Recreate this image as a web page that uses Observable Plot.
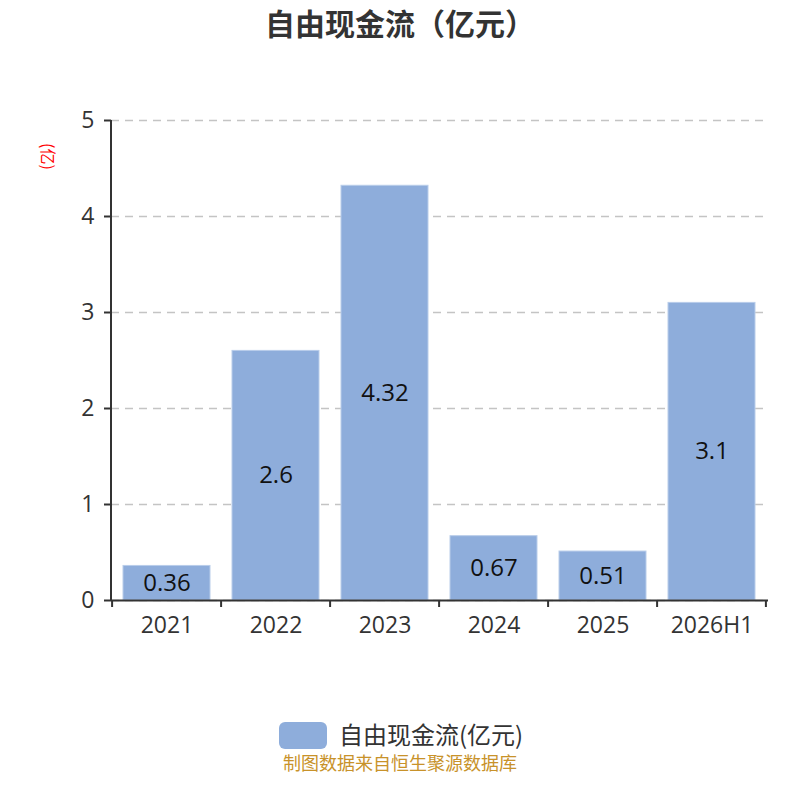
<!DOCTYPE html>
<html><head><meta charset="utf-8">
<script src="https://cdn.jsdelivr.net/npm/d3@7"></script>
<script src="https://cdn.jsdelivr.net/npm/@observablehq/plot@0.6"></script>
<style>
body{margin:0;background:#fff;font-family:"Open Sans","Noto Sans CJK SC",sans-serif;}
#wrap{position:relative;width:800px;height:800px;}
#title{position:absolute;left:0;top:0;width:800px;text-align:center;font-size:30px;line-height:44px;font-weight:bold;color:#333;font-family:"Noto Sans CJK SC",sans-serif;}
#legend{position:absolute;top:722px;left:279px;height:27px;display:flex;align-items:center;font-size:24px;line-height:27px;color:#333;}
#legend .sw{width:48px;height:27px;border-radius:6px;background:#8eaddb;margin-right:12px;}
#legend span{font-family:"Noto Sans CJK SC",sans-serif;display:block;line-height:27px;margin-top:-5px;}
#foot{position:absolute;top:751px;left:0;width:800px;text-align:center;font-size:18px;line-height:22px;color:#c8922a;font-family:"Noto Sans CJK SC",sans-serif;}
#plot{position:absolute;left:0;top:0;}
</style></head>
<body>
<div id="wrap">
<div id="plot"></div>
<div id="title">自由现金流（亿元）</div>
<div id="legend"><div class="sw"></div><span>自由现金流(亿元)</span></div>
<div id="foot">制图数据来自恒生聚源数据库</div>
</div>
<script>
const categories = ["2021","2022","2023","2024","2025","2026H1"];
const values = [0.36, 2.6, 4.32, 0.67, 0.51, 3.1];
const yTicks = [0,1,2,3,4,5];
const data = categories.map((c,i)=>({cat:c, v:values[i]}));

const plot = Plot.plot({
  width: 800, height: 800,
  marginTop: 120, marginBottom: 200, marginLeft: 111, marginRight: 32,
  style: {fontFamily: '"Open Sans","Noto Sans CJK SC",sans-serif', fontSize: "20px", color: "#333", background: "transparent", overflow: "visible"},
  x: {domain: categories, paddingInner: 0.2, paddingOuter: 0.1, label: null},
  y: {domain: [0,5], label: null},
  marks: [
    Plot.gridY(yTicks, {stroke: "#c4c4c4", strokeOpacity: 1, strokeDasharray: "8,6", strokeWidth: 1.5}),
    Plot.barY(data, {x: "cat", y: "v", fill: "#8eaddb", stroke: "#b9cdea", strokeWidth: 1}),
    Plot.text(data, {x: "cat", y: d => d.v/2, text: d => String(d.v), fill: "#111", fontSize: 24}),
    Plot.axisY(yTicks, {tickSize: 7, tickPadding: 10, tickFormat: "d", stroke: "#333", strokeWidth: 2, fontSize: 23, fill: "#333", label: null}),
    Plot.axisX({tickSize: 0, tickPadding: 16, fontSize: 23, fill: "#333", label: null}),
    Plot.ruleY([0], {stroke: "#333", strokeWidth: 2})
  ]
});

const xs = plot.scale("x");
const ys = plot.scale("y");
const step = xs.step;
const half = step * 0.2 / 2;
const bounds = categories.map(c => xs.apply(c) - half);
bounds.push(xs.apply(categories[categories.length-1]) + xs.bandwidth + half);
const svg = d3.select(plot);
const y0 = ys.apply(0), y5 = ys.apply(5);
const xLeft = xs.range[0];
svg.append("line").attr("x1", xLeft).attr("x2", xLeft).attr("y1", y5).attr("y2", y0)
  .attr("stroke","#333").attr("stroke-width",2);
svg.append("g").selectAll("line").data(bounds).join("line")
  .attr("x1", d=>d).attr("x2", d=>d).attr("y1", y0).attr("y2", y0+7)
  .attr("stroke","#333").attr("stroke-width",2);
svg.append("text").attr("transform", `translate(42,${ys.apply(4.62)}) rotate(90)`)
  .attr("text-anchor","middle").attr("fill","red").attr("font-size",16)
  .attr("font-family",'"Noto Sans CJK SC",sans-serif').text("(亿)");

document.getElementById("plot").appendChild(plot);
</script>
</body></html>
